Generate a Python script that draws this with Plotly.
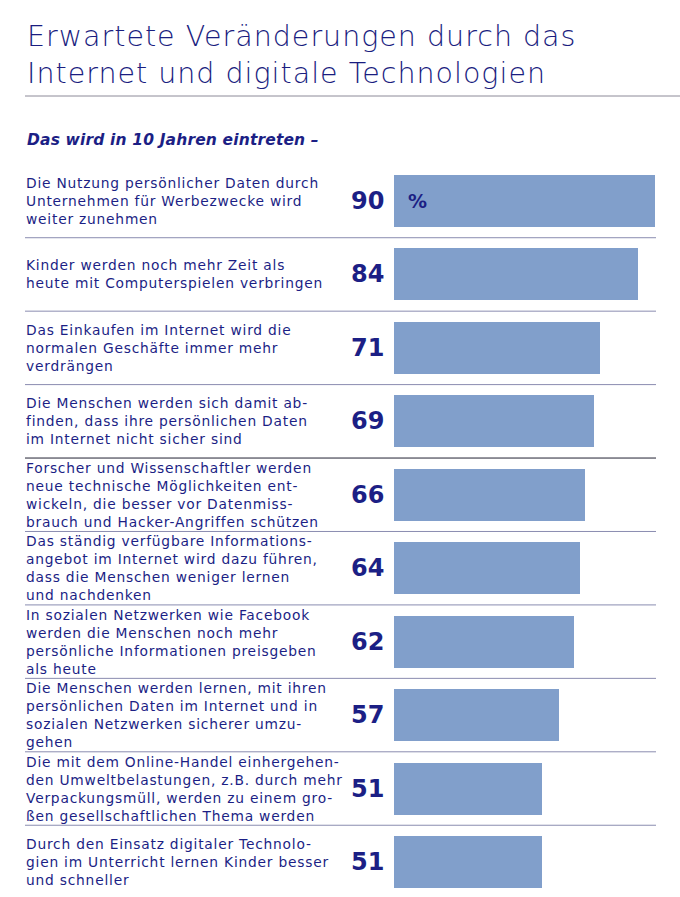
import plotly.graph_objects as go

title_lines = ["Erwartete Veränderungen durch das", "Internet und digitale Technologien"]
subtitle = "Das wird in 10 Jahren eintreten –"
labels = [
    ["Die Nutzung persönlicher Daten durch", "Unternehmen für Werbezwecke wird", "weiter zunehmen"],
    ["Kinder werden noch mehr Zeit als", "heute mit Computerspielen verbringen"],
    ["Das Einkaufen im Internet wird die", "normalen Geschäfte immer mehr", "verdrängen"],
    ["Die Menschen werden sich damit ab-", "finden, dass ihre persönlichen Daten", "im Internet nicht sicher sind"],
    ["Forscher und Wissenschaftler werden", "neue technische Möglichkeiten ent-", "wickeln, die besser vor Datenmiss-", "brauch und Hacker-Angriffen schützen"],
    ["Das ständig verfügbare Informations-", "angebot im Internet wird dazu führen,", "dass die Menschen weniger lernen", "und nachdenken"],
    ["In sozialen Netzwerken wie Facebook", "werden die Menschen noch mehr", "persönliche Informationen preisgeben", "als heute"],
    ["Die Menschen werden lernen, mit ihren", "persönlichen Daten im Internet und in", "sozialen Netzwerken sicherer umzu-", "gehen"],
    ["Die mit dem Online-Handel einhergehen-", "den Umweltbelastungen, z.B. durch mehr", "Verpackungsmüll, werden zu einem gro-", "ßen gesellschaftlichen Thema werden"],
    ["Durch den Einsatz digitaler Technolo-", "gien im Unterricht lernen Kinder besser", "und schneller"],
]
values = [90, 84, 71, 69, 66, 64, 62, 57, 51, 51]
unit_label = "%"

W, H = 680, 897
row_h = 73.44
first_center = 201
ypx = lambda px: (px - first_center) / row_h  # pixel -> row units

NAVY = "#1c1f85"
BAR = "#819fcb"
FONT = "DejaVu Sans"


def spaced(s, ls):
    return '<span style="letter-spacing:%spx">%s</span>' % (ls, s)


idx = list(range(len(values)))
fig = go.Figure(go.Bar(
    x=values, y=idx, orientation="h", marker=dict(color=BAR, line=dict(width=0)),
    width=52 / row_h, hoverinfo="skip",
))

ann = []
ann.append(dict(text="<br>".join(spaced(t, 1.0) for t in title_lines), xref="paper", yref="paper",
                x=25 / W, y=1 - 54.5 / H,
                xanchor="left", yanchor="middle", showarrow=False, align="left",
                font=dict(family=FONT, size=28.5, color="#1a1d80", weight=200)))
ann.append(dict(text="<b><i>" + spaced(subtitle, 0.15) + "</i></b>", xref="paper", yref="paper", x=25 / W,
                y=1 - 140 / H, xanchor="left", yanchor="middle", showarrow=False,
                font=dict(family=FONT, size=15.5, color=NAVY)))
for i, lines in enumerate(labels):
    ann.append(dict(text="<br>".join(spaced(l, 0.78) for l in lines), xref="paper", yref="y", x=25 / W, y=i,
                    xanchor="left", yanchor="middle", align="left", borderpad=0,
                    showarrow=False, font=dict(family=FONT, size=13.8, color=NAVY)))
    ann.append(dict(text="<b>%d</b>" % values[i], xref="paper", yref="y", x=386 / W, y=i,
                    xanchor="right", yanchor="middle", showarrow=False,
                    font=dict(family=FONT, size=24, color=NAVY)))
ann.append(dict(text="<b>" + unit_label + "</b>", xref="x", yref="y", x=4, y=0,
                xanchor="left", yanchor="middle", showarrow=False,
                font=dict(family=FONT, size=19, color=NAVY)))

shapes = [dict(type="line", xref="paper", yref="paper", x0=25 / W, x1=1, y0=1 - 96 / H, y1=1 - 96 / H,
               line=dict(color="#8c8a98", width=1))]
for i in range(len(values) - 1):
    shapes.append(dict(type="line", xref="paper", yref="y", x0=25 / W, x1=656 / W,
                       y0=i + 0.5, y1=i + 0.5,
                       line=dict(color="#222233" if i == 3 else "#8a8cb0", width=1)))

fig.update_layout(
    width=W, height=H, margin=dict(l=0, r=0, t=0, b=0),
    paper_bgcolor="white", plot_bgcolor="white", showlegend=False,
    xaxis=dict(domain=[394 / W, 655 / W], range=[0, 90], visible=False, fixedrange=True),
    yaxis=dict(domain=[0, 1], range=[ypx(H), ypx(0)], visible=False, fixedrange=True),
    annotations=ann, shapes=shapes, bargap=0,
)
fig.write_html("out.html")
